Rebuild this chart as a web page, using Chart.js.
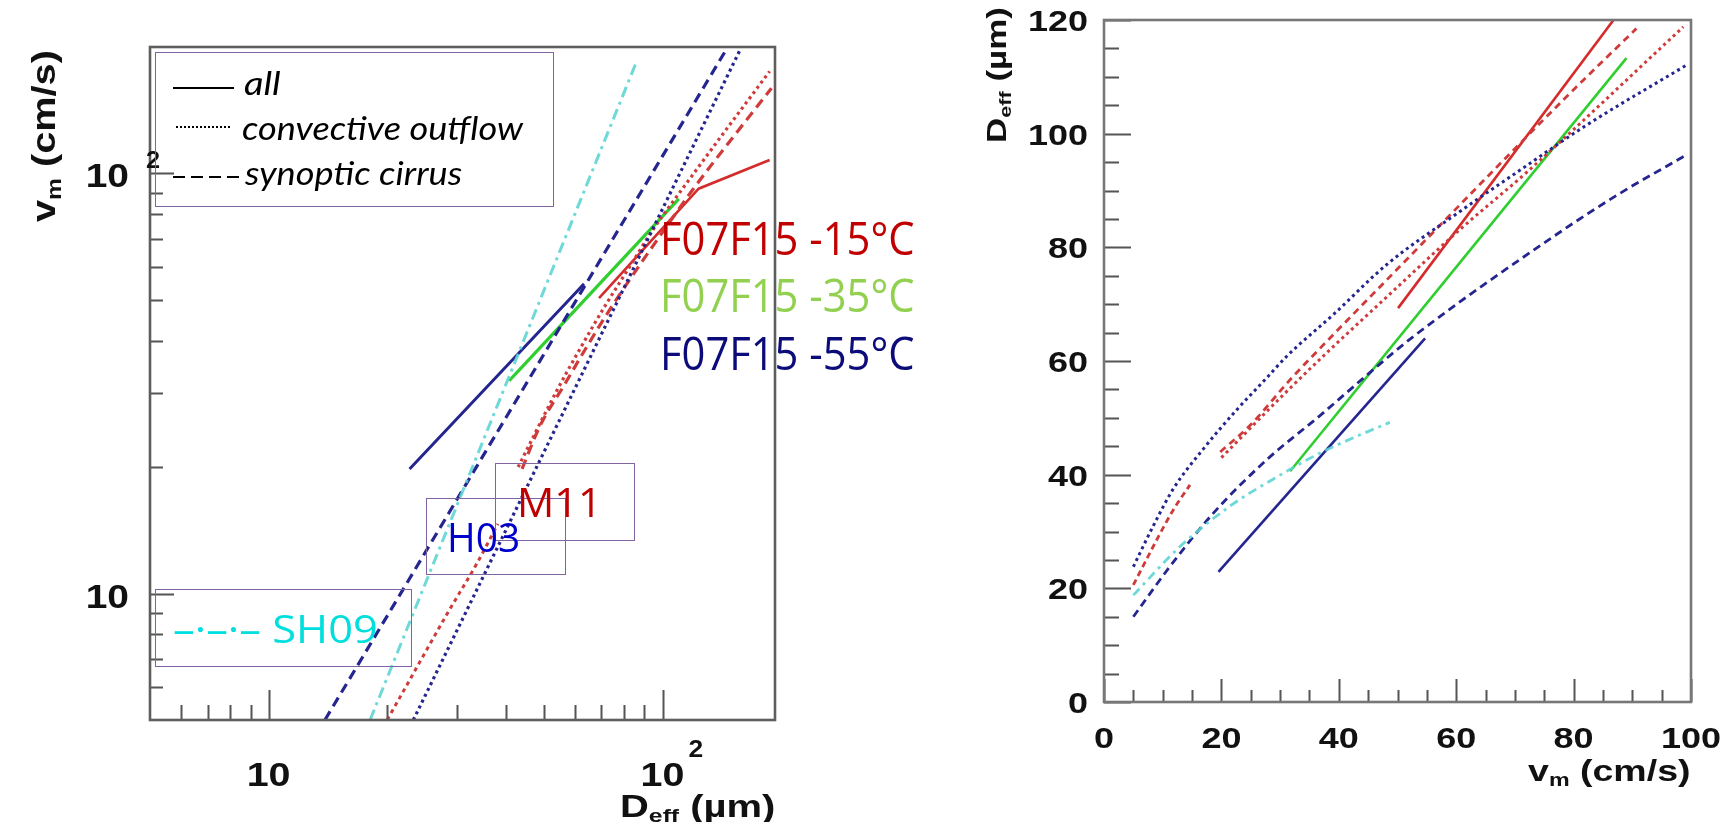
<!DOCTYPE html>
<html>
<head>
<meta charset="utf-8">
<script src="https://cdn.jsdelivr.net/npm/chart.js@4.4.1/dist/chart.umd.min.js"></script>
<style>
html,body{margin:0;padding:0;background:#fff;}
body{width:1731px;height:822px;position:relative;overflow:hidden;}
canvas{position:absolute;top:0;}
#cL{left:0;}
#cR{left:980px;}
.box{position:absolute;border:1.6px solid #8064a2;box-sizing:border-box;}
.smp{position:absolute;height:2px;}
.fit{transform-origin:0 0;}
.ttl{position:absolute;font-family:'Liberation Sans',Arial,sans-serif;font-weight:bold;color:#111;white-space:nowrap;line-height:1;}
.ann{position:absolute;font-family:'Open Sans','Noto Sans',sans-serif;white-space:nowrap;line-height:1;}
.leg{position:absolute;font-family:Lato,'Open Sans',sans-serif;font-style:italic;white-space:nowrap;line-height:1;color:#000;}
sub{font-size:0.62em;vertical-align:-0.28em;line-height:0;}
</style>
</head>
<body>
<canvas id="cL" width="980" height="822"></canvas>
<canvas id="cR" width="751" height="822"></canvas>

<!-- axis titles -->
<div class="ttl fit rot" data-w="172" style="left:27px;top:222px;font-size:33px">v<sub>m</sub> (cm/s)</div>
<div class="ttl fit" data-w="156" style="left:620px;top:791px;font-size:31px">D<sub>eff</sub> (µm)</div>
<div class="ttl fit rot" data-w="136" style="left:983px;top:143px;font-size:28px">D<sub>eff</sub> (µm)</div>
<div class="ttl fit" data-w="163" style="left:1528px;top:757px;font-size:29px">v<sub>m</sub> (cm/s)</div>

<!-- legend box -->
<div class="box" style="left:155px;top:52px;width:399px;height:155px"></div>
<div class="smp" style="left:173px;top:87px;width:61px;background:#000"></div>
<div class="smp" style="left:176px;top:126px;width:56px;background:repeating-linear-gradient(90deg,#000 0 2px,transparent 2px 4px)"></div>
<div class="smp" style="left:173px;top:176px;width:67px;background:repeating-linear-gradient(90deg,#000 0 12px,transparent 12px 18px)"></div>
<div class="leg fit" data-w="37" style="left:244px;top:67px;font-size:32px">all</div>
<div class="leg fit" data-w="281" style="left:242px;top:112px;font-size:32px">convective outflow</div>
<div class="leg fit" data-w="217" style="left:245px;top:157px;font-size:32px">synoptic cirrus</div>

<!-- source annotations -->
<div class="ann fit" data-w="255" style="left:660px;top:215px;font-size:45px;color:#c00000">F07F15 -15°C</div>
<div class="ann fit" data-w="255" style="left:660px;top:272px;font-size:45px;color:#92d050">F07F15 -35°C</div>
<div class="ann fit" data-w="255" style="left:660px;top:330px;font-size:45px;color:#0b0b7a">F07F15 -55°C</div>

<div class="box" style="left:495px;top:463px;width:140px;height:78px"></div>
<div class="box" style="left:426px;top:498px;width:140px;height:77px"></div>
<div class="box" style="left:155px;top:589px;width:257px;height:78px"></div>
<div class="ann fit" data-w="85" style="left:517px;top:481px;font-size:41px;color:#c00000">M11</div>
<div class="ann fit" data-w="73" style="left:447px;top:516px;font-size:41px;color:#0000cc">H03</div>
<div class="ann fit" data-w="205" style="left:173px;top:608px;font-size:39px;color:#00dede">–·–·– SH09</div>

<script>
// ================= DATA =================
// Left panel: v_m (cm/s) against D_eff (µm), log-log
const L_navySolid_D = [22.8, 63.2];
const L_navySolid_v = [19.8, 54.6];
const L_greenSolid_D = [40.8, 110];
const L_greenSolid_v = [32.1, 87];
const L_redSolid_D = [69, 123.5, 187];
const L_redSolid_v = [50.5, 92, 107.7];
const L_navyDashed_D = [13.9, 146];
const L_navyDashed_v = [5, 199];
const L_navyDotted_D = [23.3, 157];
const L_navyDotted_v = [5, 196];
const L_cyanDashDot_D = [18.1, 86];
const L_cyanDashDot_v = [5, 185];
const L_redDashedA_D = [20, 28.5, 33.8, 38.2];
const L_redDashedA_v = [5, 9, 11.8, 14.65];
const L_redDashedB_D = [44, 48.7, 56.7, 63.4, 74.3, 105.9, 118.5, 189];
const L_redDashedB_v = [19.8, 24.9, 31.7, 37.9, 48.2, 78.2, 90.7, 159.6];
const L_redDotted_D = [43, 54, 61.5, 71.3, 83.1, 93.2, 118.8, 187];
const L_redDotted_v = [20, 30.5, 38, 48.2, 60.6, 72, 98.7, 175];

// Right panel: D_eff (µm) against v_m (cm/s), linear
const R_navySolid_v = [19.5, 54.7];
const R_navySolid_D = [22.9, 64];
const R_greenSolid_v = [31.7, 89];
const R_greenSolid_D = [40.6, 113.3];
const R_redSolid_v = [50.1, 86.8];
const R_redSolid_D = [69.3, 120];
const R_navyDashed_v = [5, 11.2, 18.6, 27.7, 36.8, 45.9, 52.7, 76, 87.9, 99.3];
const R_navyDashed_D = [15, 23.8, 33.2, 42.6, 50.4, 58.5, 64.3, 81.5, 89.5, 96.3];
const R_navyDotted_v = [5, 8.4, 11.8, 16.9, 22.6, 27.7, 31.1, 39.1, 48.2, 59.5, 70.9, 82.2, 99.3];
const R_navyDotted_D = [23.8, 31, 37.5, 44.5, 51.4, 57, 60.8, 68.2, 77, 85.5, 93.6, 101.5, 112.1];
const R_cyanDashDot_v = [5, 12.9, 21.5, 28.8, 36.8, 42.5, 48.7];
const R_cyanDashDot_D = [18.8, 27.3, 34.5, 39.2, 43.8, 46.5, 49.2];
const R_redDashedA_v = [5, 8.97, 11.8, 14.65];
const R_redDashedA_D = [20.6, 28.5, 33.8, 38.2];
const R_redDashedB_v = [19.8, 24.9, 31.7, 37.9, 48.2, 78.2, 90.7];
const R_redDashedB_D = [44, 48.7, 56.7, 63.4, 74.3, 105.9, 118.5];
const R_redDotted_v = [20, 30.5, 38, 48.2, 60.6, 72, 98.7];
const R_redDotted_D = [43, 54, 61.5, 71.3, 83.1, 93.2, 118.8];

// Axis ticks
const L_majorTicks = [10, 100];
const L_minorTicks = [6, 7, 8, 9, 20, 30, 40, 50, 60, 70, 80, 90];
const L_tickBase = ['10', '10'];
const L_tickExp = ['', '2'];
const R_xMajorTicks = [0, 20, 40, 60, 80, 100];
const R_xMinorTicks = [5, 10, 15, 25, 30, 35, 45, 50, 55, 65, 70, 75, 85, 90, 95];
const R_yMajorTicks = [0, 20, 40, 60, 80, 100, 120];
const R_yMinorTicks = [5, 10, 15, 25, 30, 35, 45, 50, 55, 65, 70, 75, 85, 90, 95, 105, 110, 115];
const R_xTickLabels = ['0', '20', '40', '60', '80', '100'];
const R_yTickLabels = ['0', '20', '40', '60', '80', '100', '120'];

// ================= STYLE =================
const NAVY = '#25258f', RED = '#d42b2b', REDL = '#cf3b3b', GREEN = '#2fcf2f', CYAN = 'rgba(95,212,212,0.9)';
const SOLID = [], DASHED = [10, 6], DOTTED = [3, 3.5], DASHDOT = [11, 5, 3, 5];
const LBL_FONT = '"Liberation Sans", Arial, sans-serif';

function pts(xs, ys) { return xs.map((x, i) => ({ x: x, y: ys[i] })); }
function ds(label, xs, ys, color, dash, width, smooth) {
  return { label, data: pts(xs, ys), borderColor: color, borderDash: dash, borderWidth: width,
    pointRadius: 0, fill: false, tension: 0,
    cubicInterpolationMode: smooth === false ? 'default' : 'monotone', borderCapStyle: 'butt' };
}

function stretchText(ctx, text, x, y, sx, align) {
  ctx.save();
  ctx.translate(x, y);
  ctx.scale(sx, 1);
  ctx.textAlign = align;
  ctx.fillText(text, 0, 0);
  ctx.restore();
}

const frameTicks = {
  id: 'frameTicks',
  afterDraw(chart, args, o) {
    const ctx = chart.ctx, a = chart.chartArea, xs = chart.scales.x, ys = chart.scales.y;
    ctx.save();
    ctx.strokeStyle = o.tickColor; ctx.lineWidth = 2;
    ctx.beginPath();
    const tx = (vals, len) => vals.forEach(v => { const p = Math.round(xs.getPixelForValue(v)) + 0.5; ctx.moveTo(p, a.bottom); ctx.lineTo(p, a.bottom - len); });
    const ty = (vals, len) => vals.forEach(v => { const p = Math.round(ys.getPixelForValue(v)) + 0.5; ctx.moveTo(a.left, p); ctx.lineTo(a.left + len, p); });
    tx(o.xMajor, o.xMajorLen); tx(o.xMinor, o.xMinorLen);
    ty(o.yMajor, o.yMajorLen); ty(o.yMinor, o.yMinorLen);
    ctx.stroke();
    ctx.strokeStyle = o.frameColor; ctx.lineWidth = o.frameWidth;
    ctx.strokeRect(a.left, a.top, a.right - a.left, a.bottom - a.top);
    if (o.drawLabels) o.drawLabels(chart, ctx);
    ctx.restore();
  }
};

function leftLabels(chart, ctx) {
  const xs = chart.scales.x, ys = chart.scales.y;
  ctx.fillStyle = '#111';
  ctx.textBaseline = 'alphabetic';
  L_majorTicks.forEach((v, i) => {
    const py = ys.getPixelForValue(v);
    ctx.font = 'bold 33px ' + LBL_FONT;
    stretchText(ctx, L_tickBase[i], 129, py + 14, 1.18, 'right');
    if (L_tickExp[i]) {
      ctx.font = 'bold 23px ' + LBL_FONT;
      stretchText(ctx, L_tickExp[i], 146, py - 5, 1.1, 'left');
    }
    const px = xs.getPixelForValue(v);
    ctx.font = 'bold 34px ' + LBL_FONT;
    stretchText(ctx, L_tickBase[i], px, 786, 1.16, 'center');
    if (L_tickExp[i]) {
      ctx.font = 'bold 24px ' + LBL_FONT;
      stretchText(ctx, L_tickExp[i], px + 26, 757, 1.1, 'left');
    }
  });
}

function rightLabels(chart, ctx) {
  const xs = chart.scales.x, ys = chart.scales.y, a = chart.chartArea;
  ctx.fillStyle = '#111';
  ctx.textBaseline = 'alphabetic';
  ctx.font = 'bold 30px ' + LBL_FONT;
  R_yMajorTicks.forEach((v, i) => {
    const py = ys.getPixelForValue(v);
    stretchText(ctx, R_yTickLabels[i], a.left - 16, py + 11, 1.2, 'right');
  });
  R_xMajorTicks.forEach((v, i) => {
    const px = xs.getPixelForValue(v);
    stretchText(ctx, R_xTickLabels[i], px, a.bottom + 46, 1.2, 'center');
  });
}

const baseOpts = { responsive: false, animation: false, devicePixelRatio: 1, events: [] };

// ================= LEFT CHART =================
new Chart(document.getElementById('cL'), {
  type: 'line',
  data: {
    datasets: [
      ds('SH09', L_cyanDashDot_D, L_cyanDashDot_v, CYAN, DASHDOT, 3),
      ds('-55 synoptic', L_navyDashed_D, L_navyDashed_v, NAVY, DASHED, 3.2),
      ds('-55 convective', L_navyDotted_D, L_navyDotted_v, NAVY, DOTTED, 3.2),
      ds('-15 synoptic A', L_redDashedA_D, L_redDashedA_v, REDL, [4, 4], 3),
      ds('-15 synoptic B', L_redDashedB_D, L_redDashedB_v, REDL, DASHED, 3.2),
      ds('-15 convective', L_redDotted_D, L_redDotted_v, REDL, DOTTED, 3.2),
      ds('-55 all', L_navySolid_D, L_navySolid_v, NAVY, SOLID, 3),
      ds('-35 all', L_greenSolid_D, L_greenSolid_v, GREEN, SOLID, 3.2),
      ds('-15 all', L_redSolid_D, L_redSolid_v, RED, SOLID, 2.6, false)
    ]
  },
  options: Object.assign({}, baseOpts, {
    layout: { padding: { left: 0, top: 47, right: 205, bottom: 0 } },
    scales: {
      x: { type: 'logarithmic', min: 5, max: 193, ticks: { display: false }, grid: { display: false }, border: { display: false }, afterFit(s) { s.height = 102; } },
      y: { type: 'logarithmic', min: 5, max: 200, ticks: { display: false }, grid: { display: false }, border: { display: false }, afterFit(s) { s.width = 150; } }
    },
    plugins: {
      legend: { display: false }, tooltip: { enabled: false },
      frameTicks: {
        tickColor: '#555', frameColor: '#5e5e5e', frameWidth: 2.6,
        xMajor: L_majorTicks, xMajorLen: 30, xMinor: L_minorTicks, xMinorLen: 15,
        yMajor: L_majorTicks, yMajorLen: 24, yMinor: L_minorTicks, yMinorLen: 13,
        drawLabels: leftLabels
      }
    }
  }),
  plugins: [frameTicks]
});

// ================= RIGHT CHART =================
new Chart(document.getElementById('cR'), {
  type: 'line',
  data: {
    datasets: [
      ds('SH09', R_cyanDashDot_v, R_cyanDashDot_D, CYAN, [9, 5, 3, 5], 2.8),
      ds('-55 synoptic', R_navyDashed_v, R_navyDashed_D, NAVY, [8, 5], 2.8),
      ds('-55 convective', R_navyDotted_v, R_navyDotted_D, NAVY, DOTTED, 3),
      ds('-15 synoptic A', R_redDashedA_v, R_redDashedA_D, REDL, [6, 4], 2.8),
      ds('-15 synoptic B', R_redDashedB_v, R_redDashedB_D, REDL, [7, 5], 2.8),
      ds('-15 convective', R_redDotted_v, R_redDotted_D, REDL, DOTTED, 3),
      ds('-55 all', R_navySolid_v, R_navySolid_D, NAVY, SOLID, 2.6),
      ds('-35 all', R_greenSolid_v, R_greenSolid_D, GREEN, SOLID, 2.6),
      ds('-15 all', R_redSolid_v, R_redSolid_D, RED, SOLID, 2.6, false)
    ]
  },
  options: Object.assign({}, baseOpts, {
    layout: { padding: { left: 0, top: 20, right: 40, bottom: 0 } },
    scales: {
      x: { type: 'linear', min: 0, max: 100, ticks: { display: false }, grid: { display: false }, border: { display: false }, afterFit(s) { s.height = 120; } },
      y: { type: 'linear', min: 0, max: 120, ticks: { display: false }, grid: { display: false }, border: { display: false }, afterFit(s) { s.width = 124; } }
    },
    plugins: {
      legend: { display: false }, tooltip: { enabled: false },
      frameTicks: {
        tickColor: '#555', frameColor: '#777', frameWidth: 2.6,
        xMajor: R_xMajorTicks, xMajorLen: 23, xMinor: R_xMinorTicks, xMinorLen: 12,
        yMajor: R_yMajorTicks, yMajorLen: 27, yMinor: R_yMinorTicks, yMinorLen: 15,
        drawLabels: rightLabels
      }
    }
  }),
  plugins: [frameTicks]
});

// ================= fit overlay texts =================
function fitAll() {
  document.querySelectorAll('.fit').forEach(el => {
    const w = parseFloat(el.dataset.w);
    const nat = el.offsetWidth;
    if (!nat) return;
    const k = w / nat;
    el.style.transform = (el.classList.contains('rot') ? 'rotate(-90deg) ' : '') + 'scaleX(' + k.toFixed(3) + ')';
  });
}
fitAll();
if (document.fonts && document.fonts.ready) document.fonts.ready.then(fitAll);
</script>
</body>
</html>
